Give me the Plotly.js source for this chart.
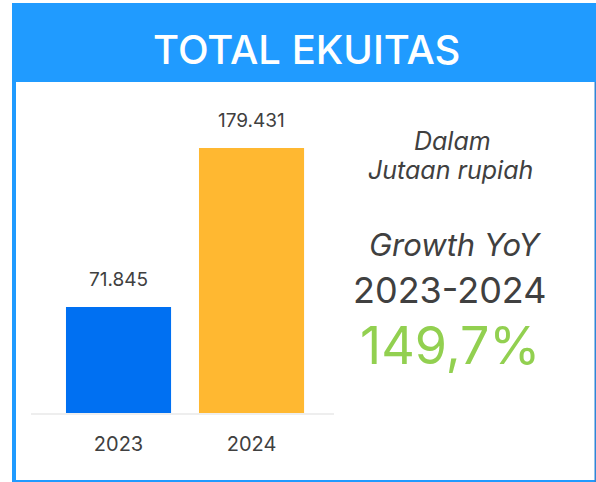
<!DOCTYPE html>
<html><head><meta charset="utf-8">
<script src="https://cdn.plot.ly/plotly-3.0.1.min.js"></script>
<style>html,body{margin:0;padding:0;background:#fff;}#c{width:596px;height:482px;}</style>
</head><body><div id="c"></div>
<script>
const years = ['2023', '2024'];
const equity = [71845, 179431];
const barColors = ['#0070F2', '#FFB831'];
const titleText = 'TOTAL EKUITAS';
const unitLines = ['Dalam', 'Jutaan rupiah'];
const growthLabel = 'Growth YoY';
const growthPeriod = '2023-2024';
const growthValue = '149,7%';

const W = 596, H = 482, L = 31, R = 262, T = 100, B = 69;
const pw = W - L - R, ph = H - T - B;
const px = x => (x - L) / pw;
const py = y => (H - B - y) / ph;
const FONT = 'Inter, "Open Sans", sans-serif';
const TXT = '#404040';
const HEAD = '#209BFF';
const fmt = v => String(v).replace(/\B(?=(\d{3})+(?!\d))/g, '.');

const data = [{
  type: 'bar', x: years, y: equity, width: 0.79,
  marker: {color: barColors}, hoverinfo: 'skip'
}];

const annotations = [];
years.forEach((yr, i) => annotations.push({
  x: i, y: equity[i], xref: 'x', yref: 'y', yanchor: 'bottom', yshift: 14,
  text: fmt(equity[i]), showarrow: false,
  font: {family: FONT, size: 19, color: TXT}
}));
annotations.push(
  {x: px(306), y: py(50), xref: 'paper', yref: 'paper', text: titleText, showarrow: false,
   xanchor: 'center', yanchor: 'middle', font: {family: FONT, size: 40, color: '#fff', weight: 500}},
  {x: px(452), y: py(141), xref: 'paper', yref: 'paper', text: '<i>' + unitLines[0] + '</i>', showarrow: false,
   xanchor: 'center', yanchor: 'middle', font: {family: FONT, size: 25, color: TXT}},
  {x: px(451), y: py(170), xref: 'paper', yref: 'paper', text: '<i>' + unitLines[1] + '</i>', showarrow: false,
   xanchor: 'center', yanchor: 'middle', font: {family: FONT, size: 25, color: TXT}},
  {x: px(455), y: py(244), xref: 'paper', yref: 'paper', text: '<i>' + growthLabel + '</i>', showarrow: false,
   xanchor: 'center', yanchor: 'middle', font: {family: FONT, size: 31, color: TXT}},
  {x: px(450), y: py(290), xref: 'paper', yref: 'paper', text: growthPeriod, showarrow: false,
   xanchor: 'center', yanchor: 'middle', font: {family: FONT, size: 36, color: TXT}},
  {x: px(450), y: py(345), xref: 'paper', yref: 'paper', text: growthValue, showarrow: false,
   xanchor: 'center', yanchor: 'middle', font: {family: FONT, size: 52, color: '#92D050'}}
);

const rect = (x0, y0, x1, y1, c) => ({type: 'rect', xref: 'paper', yref: 'paper',
  x0: px(x0), x1: px(x1), y0: py(y1), y1: py(y0), fillcolor: c, line: {width: 0}, layer: 'below'});

const shapes = [
  rect(12, 3, 596, 82, HEAD),
  rect(12, 82, 16, 482, HEAD),
  rect(12, 480, 596, 482, HEAD),
  rect(594.5, 82, 596, 482, '#2F86D6')
];

const layout = {
  width: W, height: H, margin: {l: L, r: R, t: T, b: B},
  paper_bgcolor: '#fff', plot_bgcolor: 'rgba(0,0,0,0)', showlegend: false,
  xaxis: {type: 'category', range: [-0.658, 1.62], showgrid: false, zeroline: false,
    showline: true, linecolor: '#EEEEEE', linewidth: 2,
    ticks: 'outside', ticklen: 12, tickcolor: 'rgba(0,0,0,0)',
    tickfont: {family: FONT, size: 20, color: TXT}, fixedrange: true},
  yaxis: {range: [0, 212000], visible: false, fixedrange: true},
  annotations: annotations, shapes: shapes
};
Plotly.newPlot('c', data, layout, {staticPlot: true, displayModeBar: false});
</script></body></html>
